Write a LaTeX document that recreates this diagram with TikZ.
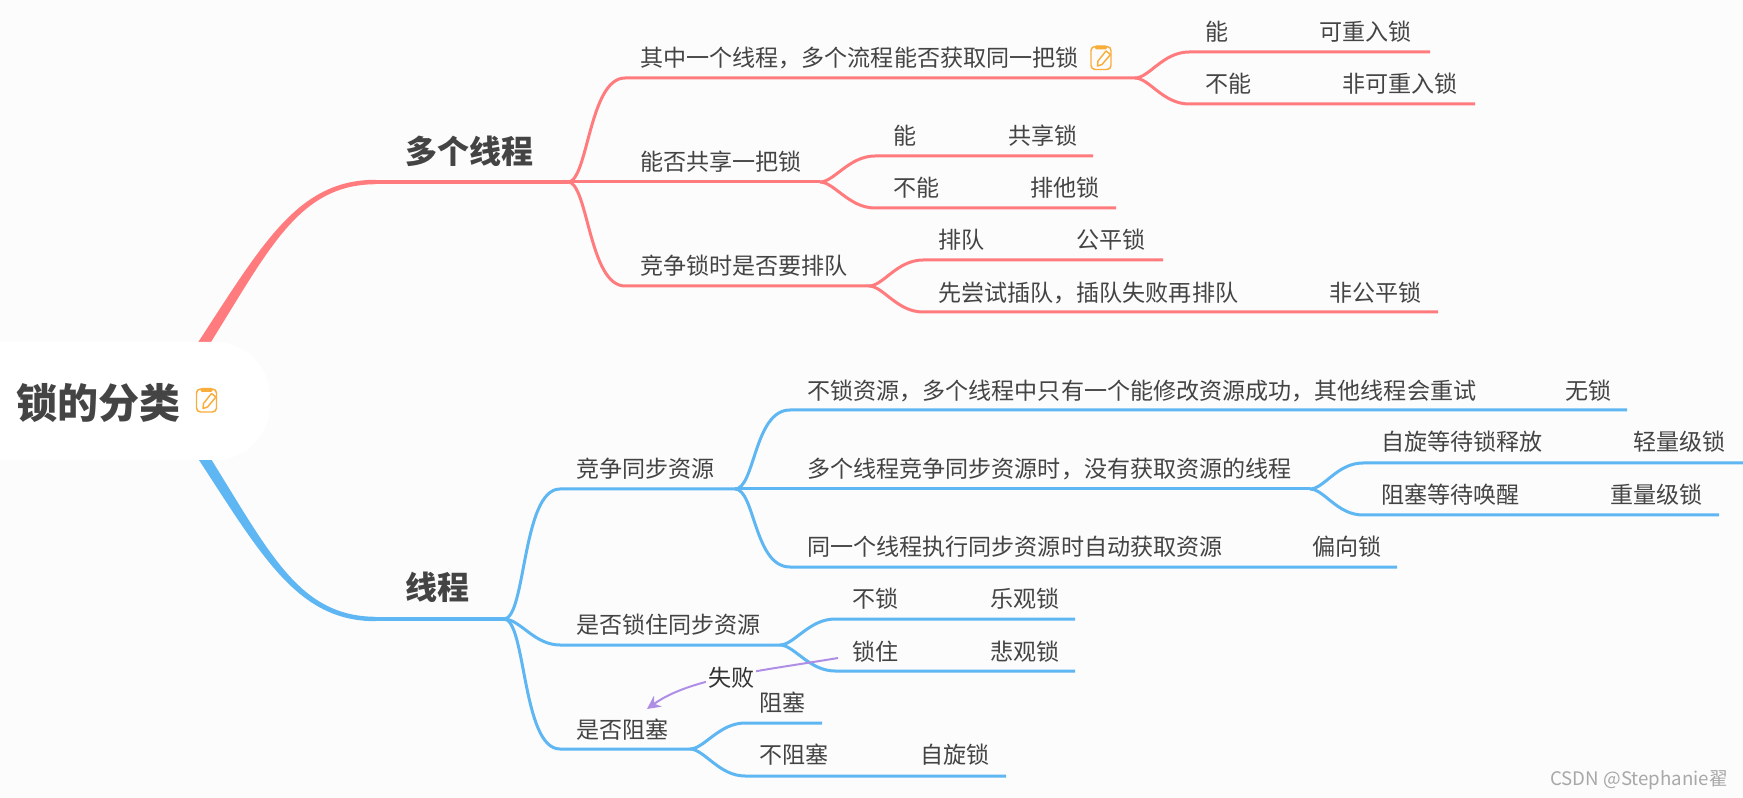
\documentclass[tikz,border=0pt]{standalone}
\usepackage{fontspec}
\setmainfont{Noto Sans CJK SC}
\usetikzlibrary{arrows.meta}
\definecolor{bgc}{HTML}{FCFCFC}
\definecolor{redl}{HTML}{FF7B7D}
\definecolor{bluel}{HTML}{5EB6F2}
\definecolor{txt}{HTML}{444444}
\definecolor{iconc}{HTML}{F9AE3B}
\definecolor{purp}{HTML}{AF8FE6}
\definecolor{wm}{HTML}{A8A8A8}
\tikzset{
  lbl/.style={anchor=west,inner sep=0pt,text=txt,xshift=-.75pt,yshift=-.75pt,font=\fontsize{17.3pt}{20pt}\selectfont},
  mainlbl/.style={anchor=west,inner sep=0pt,text=txt,xshift=-1.1pt,font=\fontsize{24pt}{28pt}\selectfont\bfseries},
  rootlbl/.style={anchor=west,inner sep=0pt,text=txt,font=\fontsize{30.75pt}{34pt}\selectfont\bfseries},
  rbr/.style={draw=redl,line width=2.25pt,line cap=butt,line join=round},
  bbr/.style={draw=bluel,line width=2.25pt,line cap=butt,line join=round},
  pics/noteicon/.style={code={
    \fill[iconc,rounded corners=1pt] (-6,-12.5) rectangle (6,-8.5);
    \draw[iconc,line width=1.1pt,rounded corners=3pt] (-10,-11.5) rectangle (10,11.5);
    \draw[iconc,line width=1.1pt,line join=round,fill=white] (-3.5,8) -- (-3,3) -- (5,-7) -- (9.5,-3.5) -- (1,6.5) -- cycle;
  }},
}
\begin{document}
\begin{tikzpicture}[x=0.75pt,y=-0.75pt]
\useasboundingbox (0,0) rectangle (1743,798);
\fill[bgc] (0,0) rectangle (1743,798);

% junction coordinates
\coordinate (rj) at (568,182);
\coordinate (bj) at (504,619);
\coordinate (r1) at (625,78);
\coordinate (r1f) at (1135,78);
\coordinate (r1a) at (1189,52);
\coordinate (r1ae) at (1430,52);
\coordinate (r1b) at (1189,104);
\coordinate (r1be) at (1475,104);
\coordinate (r2f) at (820,182);
\coordinate (r2a) at (875,156);
\coordinate (r2ae) at (1093,156);
\coordinate (r2b) at (875,208);
\coordinate (r2be) at (1116,208);
\coordinate (r3) at (625,286);
\coordinate (r3f) at (869,286);
\coordinate (r3a) at (923,260);
\coordinate (r3ae) at (1163,260);
\coordinate (r3b) at (923,312);
\coordinate (r3be) at (1438,312);
\coordinate (b1) at (560,489);
\coordinate (b1f) at (735,489);
\coordinate (b11) at (790,410);
\coordinate (b11e) at (1627,410);
\coordinate (b12f) at (1310,489);
\coordinate (b12a) at (1363,463);
\coordinate (b12ae) at (1743,463);
\coordinate (b12b) at (1363,515);
\coordinate (b12be) at (1719,515);
\coordinate (b13) at (790,567);
\coordinate (b13e) at (1397,567);
\coordinate (b2) at (560,645);
\coordinate (b2f) at (780,645);
\coordinate (b2a) at (835,619);
\coordinate (b2ae) at (1075,619);
\coordinate (b2b) at (835,671);
\coordinate (b2be) at (1075,671);
\coordinate (b3) at (560,749);
\coordinate (b3f) at (690,749);
\coordinate (b3a) at (745,723);
\coordinate (b3ae) at (822,723);
\coordinate (b3b) at (745,776);
\coordinate (b3be) at (1006,776);
\coordinate (mr) at (376,182);
\coordinate (mb) at (376,619);
\coordinate (ars) at (838,658);
\coordinate (are) at (647,709);

% thick tapered main branches
\fill[redl] (175.5,376.5) .. controls (256,257) and (290,179.5) .. (376,179.8)
  -- (376,184.2) .. controls (290,184.5) and (264,263) .. (184.5,383.5) -- cycle;
\fill[bluel] (175.5,424.5) .. controls (256,544) and (290,621.5) .. (376,621.2)
  -- (376,616.8) .. controls (290,616.5) and (264,538) .. (184.5,417.5) -- cycle;

% main horizontal lines
\draw[rbr,line width=2.6pt] (mr) -- (rj);
\draw[bbr,line width=2.6pt] (mb) -- (bj);

% red branches
\draw[rbr] (rj) .. controls +(20,0) and +(-36,0) .. (r1) -- (r1f);
\draw[rbr] (rj) -- (r2f);
\draw[rbr] (rj) .. controls +(20,0) and +(-36,0) .. (r3) -- (r3f);
\draw[rbr] (r1f) .. controls +(14,0) and +(-26,0) .. (r1a) -- (r1ae);
\draw[rbr] (r1f) .. controls +(14,0) and +(-26,0) .. (r1b) -- (r1be);
\draw[rbr] (r2f) .. controls +(14,0) and +(-26,0) .. (r2a) -- (r2ae);
\draw[rbr] (r2f) .. controls +(14,0) and +(-26,0) .. (r2b) -- (r2be);
\draw[rbr] (r3f) .. controls +(14,0) and +(-26,0) .. (r3a) -- (r3ae);
\draw[rbr] (r3f) .. controls +(14,0) and +(-26,0) .. (r3b) -- (r3be);

% blue branches
\draw[bbr] (bj) .. controls +(22,0) and +(-38,0) .. (b1) -- (b1f);
\draw[bbr] (bj) .. controls +(16,0) and +(-26,0) .. (b2) -- (b2f);
\draw[bbr] (bj) .. controls +(22,0) and +(-38,0) .. (b3) -- (b3f);
\draw[bbr] (b1f) .. controls +(20,0) and +(-36,0) .. (b11) -- (b11e);
\draw[bbr] (b1f) -- (b12f);
\draw[bbr] (b1f) .. controls +(20,0) and +(-36,0) .. (b13) -- (b13e);
\draw[bbr] (b12f) .. controls +(14,0) and +(-26,0) .. (b12a) -- (b12ae);
\draw[bbr] (b12f) .. controls +(14,0) and +(-26,0) .. (b12b) -- (b12be);
\draw[bbr] (b2f) .. controls +(14,0) and +(-26,0) .. (b2a) -- (b2ae);
\draw[bbr] (b2f) .. controls +(14,0) and +(-26,0) .. (b2b) -- (b2be);
\draw[bbr] (b3f) .. controls +(14,0) and +(-26,0) .. (b3a) -- (b3ae);
\draw[bbr] (b3f) .. controls +(14,0) and +(-26,0) .. (b3b) -- (b3be);

% root
\fill[white,rounded corners=41pt] (-80,342) rectangle (270,460);
\node[rootlbl] (root) at (16,403) {锁的分类};
\pic at (206.5,400.5) {noteicon};

% main labels
\node[mainlbl] (n1) at (407,151) {多个线程};
\node[mainlbl] (n2) at (407,587) {线程};

% red labels
\node[lbl] (a1) at (641,57) {其中一个线程，多个流程能否获取同一把锁};
\pic at (1101,58) {noteicon};
\node[lbl] (a1a) at (1206,31) {能};
\node[lbl] (a1ar) at (1320,31) {可重入锁};
\node[lbl] (a1b) at (1206,83) {不能};
\node[lbl] (a1br) at (1343,83) {非可重入锁};
\node[lbl] (a2) at (641,161) {能否共享一把锁};
\node[lbl] (a2a) at (894,135) {能};
\node[lbl] (a2ar) at (1009,135) {共享锁};
\node[lbl] (a2b) at (894,187) {不能};
\node[lbl] (a2br) at (1031,187) {排他锁};
\node[lbl] (a3) at (641,265) {竞争锁时是否要排队};
\node[lbl] (a3a) at (939,239) {排队};
\node[lbl] (a3ar) at (1077,239) {公平锁};
\node[lbl] (a3b) at (939,292) {先尝试插队，插队失败再排队};
\node[lbl] (a3br) at (1330,292) {非公平锁};

% blue labels
\node[lbl] (c1) at (577,468) {竞争同步资源};
\node[lbl] (c11) at (808,390) {不锁资源，多个线程中只有一个能修改资源成功，其他线程会重试};
\node[lbl] (c11r) at (1566,390) {无锁};
\node[lbl] (c12) at (808,468) {多个线程竞争同步资源时，没有获取资源的线程};
\node[lbl] (c12a) at (1382,441) {自旋等待锁释放};
\node[lbl] (c12ar) at (1634,441) {轻量级锁};
\node[lbl] (c12b) at (1382,494) {阻塞等待唤醒};
\node[lbl] (c12br) at (1611,494) {重量级锁};
\node[lbl] (c13) at (808,546) {同一个线程执行同步资源时自动获取资源};
\node[lbl] (c13r) at (1313,546) {偏向锁};
\node[lbl] (c2) at (577,624) {是否锁住同步资源};
\node[lbl] (c2a) at (853,598) {不锁};
\node[lbl] (c2ar) at (991,598) {乐观锁};
\node[lbl] (c2b) at (853,651) {锁住};
\node[lbl] (c2br) at (991,651) {悲观锁};
\node[lbl] (c3) at (577,729) {是否阻塞};
\node[lbl] (c3a) at (760,702) {阻塞};
\node[lbl] (c3b) at (760,754) {不阻塞};
\node[lbl] (c3br) at (921,754) {自旋锁};

% relation arrow
\draw[purp,line width=1.5pt,-{Stealth[length=10pt,width=10pt]}] (ars) .. controls (760,671) and (690,678) .. (are)
  node[pos=.5,xshift=1.5pt,yshift=-.75pt,fill=bgc,inner sep=1.5pt,text=black!80,font=\fontsize{17.3pt}{20pt}\selectfont] (fail) {失败};

% watermark
\node[anchor=east,inner sep=0pt,text=wm,font=\fontsize{14pt}{16pt}\selectfont] (wmk) at (1728,780) {CSDN @Stephanie翟};
\end{tikzpicture}
\end{document}
